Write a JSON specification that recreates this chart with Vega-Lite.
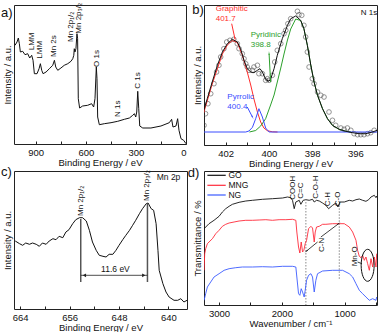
{
"$schema":"https://vega.github.io/schema/vega-lite/v6.json",
"background":"white",
"padding":{"left":0,"top":2,"right":0,"bottom":0},
"columns":2,
"spacing":{"row":26,"column":17},
"bounds":"flush",
"resolve":{"scale":{"color":"independent"}},
"config":{
 "view":{"stroke":"#222","strokeWidth":1},
 "font":"Liberation Sans",
 "axis":{"grid":false,"domain":false,"labelFont":"Liberation Sans","titleFont":"Liberation Sans","labelFontSize":9.5,"titleFontSize":9.5,"titleFontWeight":"normal","labelColor":"#111","titleColor":"#111","tickColor":"#222"},
 "axisX":{"tickSize":-3,"labelPadding":6,"titlePadding":1},
 "axisY":{"labels":false,"ticks":false,"titlePadding":2},
 "text":{"font":"Liberation Sans"}
},
"datasets":{
"a":[
{"s":"c","x":1024,"y":98.7},{"s":"c","x":1012,"y":102},{"s":"c","x":1004,"y":106},{"s":"c","x":998,"y":100.3},{"s":"c","x":992,"y":92},{"s":"c","x":978,"y":92.7},{"s":"c","x":964,"y":89.3},{"s":"c","x":948,"y":90.3},{"s":"c","x":936,"y":86},{"s":"c","x":924,"y":88.7},{"s":"c","x":916,"y":83.7},{"s":"c","x":908,"y":70.3},{"s":"c","x":892,"y":70.3},{"s":"c","x":880,"y":75.3},{"s":"c","x":872,"y":80.3},{"s":"c","x":864,"y":73.7},{"s":"c","x":856,"y":70.3},{"s":"c","x":838,"y":72},{"s":"c","x":818,"y":75.3},{"s":"c","x":798,"y":78.7},{"s":"c","x":788,"y":83.7},{"s":"c","x":780,"y":77},{"s":"c","x":768,"y":73.7},{"s":"c","x":749,"y":76},{"s":"c","x":729,"y":78.7},{"s":"c","x":708,"y":80.3},{"s":"c","x":689,"y":82.7},{"s":"c","x":678,"y":85.3},{"s":"c","x":672,"y":88.7},{"s":"c","x":669,"y":95.3},{"s":"c","x":665,"y":92},{"s":"c","x":659,"y":95.3},{"s":"c","x":653,"y":110.3},{"s":"c","x":649,"y":105.3},{"s":"c","x":645,"y":45.3},{"s":"c","x":637,"y":36},{"s":"c","x":619,"y":38},{"s":"c","x":589,"y":38.7},{"s":"c","x":565,"y":40.3},{"s":"c","x":553,"y":37},{"s":"c","x":545,"y":45.3},{"s":"c","x":537,"y":77},{"s":"c","x":533,"y":65.3},{"s":"c","x":529,"y":27},{"s":"c","x":519,"y":19.3},{"s":"c","x":489,"y":20.3},{"s":"c","x":449,"y":21.3},{"s":"c","x":409,"y":22.7},{"s":"c","x":369,"y":24.7},{"s":"c","x":339,"y":26},{"s":"c","x":319,"y":28.7},{"s":"c","x":309,"y":30.3},{"s":"c","x":301,"y":27},{"s":"c","x":295,"y":32},{"s":"c","x":289,"y":52.7},{"s":"c","x":283,"y":35.3},{"s":"c","x":277,"y":18},{"s":"c","x":259,"y":16},{"s":"c","x":210,"y":16},{"s":"c","x":150,"y":18},{"s":"c","x":100,"y":21.3},{"s":"c","x":86,"y":24.7},{"s":"c","x":78,"y":17},{"s":"c","x":60,"y":18},{"s":"c","x":50,"y":25.3},{"s":"c","x":42,"y":13.7},{"s":"c","x":30,"y":5.3},{"s":"c","x":14,"y":3.7},{"s":"c","x":0,"y":0.3},
{"s":"r","x":922,"y":93.7,"t":"LMM"},{"s":"r","x":872,"y":85.3,"t":"LMM"},{"s":"r","x":788,"y":87,"t":"Mn 2s"},{"s":"r","x":689,"y":102,"t":"Mn 2p₁/₂"},{"s":"r","x":639,"y":110.3,"t":"Mn 2p₃/₂"},{"s":"r","x":533,"y":77,"t":"O 1s"},{"s":"r","x":409,"y":27,"t":"N 1s"},{"s":"r","x":289,"y":55.3,"t":"C 1s"},
{"s":"p","x":1108,"y":131,"t":"a)"}
],
"b":[
{"s":"o","x":403.0,"y":6.7},{"s":"o","x":402.93,"y":18.3},{"s":"o","x":402.82,"y":28.3},{"s":"o","x":402.69,"y":38.3},{"s":"o","x":402.54,"y":48.3},{"s":"o","x":402.42,"y":60},{"s":"o","x":402.31,"y":66.7},{"s":"o","x":402.23,"y":75},{"s":"o","x":402.08,"y":83.3},{"s":"o","x":401.95,"y":90},{"s":"o","x":401.8,"y":91.7},{"s":"o","x":401.62,"y":92.7},{"s":"o","x":401.46,"y":88.3},{"s":"o","x":401.38,"y":83.3},{"s":"o","x":401.23,"y":78.3},{"s":"o","x":401.15,"y":73.3},{"s":"o","x":401.07,"y":68.3},{"s":"o","x":401.0,"y":65},{"s":"o","x":400.92,"y":61.7},{"s":"o","x":400.76,"y":61.7},{"s":"o","x":400.69,"y":65},{"s":"o","x":400.53,"y":66.7},{"s":"o","x":400.46,"y":58.3},{"s":"o","x":400.3,"y":58.3},{"s":"o","x":400.15,"y":51.7},{"s":"o","x":400.07,"y":53.3},{"s":"o","x":399.99,"y":51.7},{"s":"o","x":399.84,"y":56.7},{"s":"o","x":399.73,"y":70},{"s":"o","x":399.61,"y":81.7},{"s":"o","x":399.45,"y":88.3},{"s":"o","x":399.3,"y":98.3},{"s":"o","x":399.22,"y":101.7},{"s":"o","x":399.12,"y":108.3},{"s":"o","x":398.99,"y":113.3},{"s":"o","x":398.68,"y":120.7},{"s":"o","x":398.61,"y":117.3},{"s":"o","x":398.48,"y":116.7},{"s":"o","x":398.38,"y":106.7},{"s":"o","x":398.3,"y":95},{"s":"o","x":398.22,"y":80},{"s":"o","x":398.14,"y":65},{"s":"o","x":397.99,"y":53.3},{"s":"o","x":397.91,"y":48.3},{"s":"o","x":397.75,"y":40},{"s":"o","x":397.6,"y":36.7},{"s":"o","x":397.45,"y":35},{"s":"o","x":397.22,"y":20},{"s":"o","x":397.06,"y":11.7},{"s":"o","x":396.91,"y":6.7},{"s":"o","x":396.67,"y":4},{"s":"o","x":396.52,"y":2.7},{"s":"o","x":396.37,"y":4},{"s":"o","x":396.21,"y":1.7},{"s":"o","x":396.06,"y":-1.7},{"s":"o","x":395.9,"y":-2.7},{"s":"o","x":395.75,"y":-2.7},{"s":"o","x":395.6,"y":-2.7},{"s":"o","x":395.44,"y":-1.7},{"s":"o","x":395.29,"y":-0.7},{"s":"o","x":395.13,"y":1.7},
{"s":"c","k":"gr","x":403.03,"y":18},{"s":"c","k":"gr","x":402.62,"y":48},{"s":"c","k":"gr","x":402.15,"y":78},{"s":"c","k":"gr","x":401.92,"y":87},{"s":"c","k":"gr","x":401.69,"y":91.5},{"s":"c","k":"gr","x":401.46,"y":89.5},{"s":"c","k":"gr","x":401.23,"y":77},{"s":"c","k":"gr","x":401.0,"y":60},{"s":"c","k":"gr","x":400.84,"y":47},{"s":"c","k":"gr","x":400.69,"y":33},{"s":"c","k":"gr","x":400.53,"y":20},{"s":"c","k":"gr","x":400.38,"y":10},{"s":"c","k":"gr","x":400.23,"y":4},{"s":"c","k":"gr","x":400.07,"y":1.3},{"s":"c","k":"gr","x":399.84,"y":0.2},{"s":"c","k":"gr","x":399.6,"y":0},
{"s":"c","k":"pyd","x":400.9,"y":0},{"s":"c","k":"pyd","x":400.61,"y":1.5},{"s":"c","k":"pyd","x":400.38,"y":6},{"s":"c","k":"pyd","x":400.15,"y":13.3},{"s":"c","k":"pyd","x":399.92,"y":27},{"s":"c","k":"pyd","x":399.76,"y":37},{"s":"c","k":"pyd","x":399.61,"y":50},{"s":"c","k":"pyd","x":399.45,"y":64},{"s":"c","k":"pyd","x":399.3,"y":78},{"s":"c","k":"pyd","x":399.14,"y":92},{"s":"c","k":"pyd","x":398.99,"y":103},{"s":"c","k":"pyd","x":398.76,"y":113},{"s":"c","k":"pyd","x":398.53,"y":111.5},{"s":"c","k":"pyd","x":398.38,"y":103.3},{"s":"c","k":"pyd","x":398.22,"y":86.7},{"s":"c","k":"pyd","x":398.06,"y":66.7},{"s":"c","k":"pyd","x":397.91,"y":50},{"s":"c","k":"pyd","x":397.75,"y":36.7},{"s":"c","k":"pyd","x":397.52,"y":23.3},{"s":"c","k":"pyd","x":397.29,"y":13.3},{"s":"c","k":"pyd","x":397.06,"y":6.7},{"s":"c","k":"pyd","x":396.75,"y":2.7},{"s":"c","k":"pyd","x":396.44,"y":0.7},{"s":"c","k":"pyd","x":396.2,"y":0},
{"s":"c","k":"pyr","x":403.0,"y":0},{"s":"c","k":"pyr","x":401.07,"y":0},{"s":"c","k":"pyr","x":400.92,"y":1},{"s":"c","k":"pyr","x":400.76,"y":4.7},{"s":"c","k":"pyr","x":400.61,"y":13.3},{"s":"c","k":"pyr","x":400.46,"y":23.3},{"s":"c","k":"pyr","x":400.3,"y":15},{"s":"c","k":"pyr","x":400.15,"y":4},{"s":"c","k":"pyr","x":399.99,"y":0},{"s":"c","k":"pyr","x":395.0,"y":0},
{"s":"c","k":"env","x":403.03,"y":20},{"s":"c","k":"env","x":402.85,"y":33.3},{"s":"c","k":"env","x":402.62,"y":50},{"s":"c","k":"env","x":402.38,"y":66.7},{"s":"c","k":"env","x":402.15,"y":80},{"s":"c","k":"env","x":401.92,"y":88.3},{"s":"c","k":"env","x":401.69,"y":92.7},{"s":"c","k":"env","x":401.46,"y":90},{"s":"c","k":"env","x":401.31,"y":83.3},{"s":"c","k":"env","x":401.15,"y":71.7},{"s":"c","k":"env","x":401.0,"y":63.3},{"s":"c","k":"env","x":400.84,"y":60},{"s":"c","k":"env","x":400.69,"y":59.3},{"s":"c","k":"env","x":400.53,"y":61.7},{"s":"c","k":"env","x":400.41,"y":63.3},{"s":"c","k":"env","x":400.3,"y":60},{"s":"c","k":"env","x":400.15,"y":52.7},{"s":"c","k":"env","x":400.0,"y":50.7},{"s":"c","k":"env","x":399.92,"y":52.7},{"s":"c","k":"env","x":399.76,"y":63.3},{"s":"c","k":"env","x":399.61,"y":76.7},{"s":"c","k":"env","x":399.38,"y":93.3},{"s":"c","k":"env","x":399.14,"y":106.7},{"s":"c","k":"env","x":398.99,"y":113.3},{"s":"c","k":"env","x":398.76,"y":116},{"s":"c","k":"env","x":398.53,"y":111.7},{"s":"c","k":"env","x":398.38,"y":103.3},{"s":"c","k":"env","x":398.22,"y":86.7},{"s":"c","k":"env","x":398.06,"y":66.7},{"s":"c","k":"env","x":397.91,"y":50},{"s":"c","k":"env","x":397.75,"y":36.7},{"s":"c","k":"env","x":397.52,"y":23.3},{"s":"c","k":"env","x":397.29,"y":13.3},{"s":"c","k":"env","x":397.06,"y":6.7},{"s":"c","k":"env","x":396.75,"y":2.7},{"s":"c","k":"env","x":396.44,"y":0.7},{"s":"c","k":"env","x":396.13,"y":-0.7},{"s":"c","k":"env","x":395.83,"y":-1.7},{"s":"c","k":"env","x":395.52,"y":-1.7},{"s":"c","k":"env","x":395.21,"y":0},{"s":"c","k":"env","x":395.0,"y":1.7},
{"s":"t","k":"gr","x":402.46,"y":123.3,"t":"Graphitic"},{"s":"t","k":"gr","x":402.46,"y":113.3,"t":"401.7"},
{"s":"t","k":"pyd","x":400.84,"y":96.7,"t":"Pyridinic"},{"s":"t","k":"pyd","x":400.84,"y":86.7,"t":"398.8"},
{"s":"t","k":"pyr","x":401.92,"y":35,"t":"Pyrrolic"},{"s":"t","k":"pyr","x":401.92,"y":25,"t":"400.4"},
{"s":"t","k":"env","x":395.75,"y":118.8,"t":"N 1s"},
{"s":"ar","k":"gr","x":401.72,"y":108.3,"x2":401.57,"y2":93.3},{"s":"ar","k":"pyd","x":399.99,"y":78.3,"x2":399.92,"y2":50},{"s":"ar","k":"pyr","x":401.0,"y":25,"x2":400.76,"y2":15},
{"s":"w1","x":401.57,"y":93.3},{"s":"w2","x":399.99,"y":78.3},{"s":"w3","x":400.76,"y":15},
{"s":"p","x":403.54,"y":121.7,"t":"b)"}
],
"c":[
{"s":"c","x":664.8,"y":68},{"s":"c","x":664.1,"y":65.3},{"s":"c","x":663.6,"y":63.7},{"s":"c","x":663.1,"y":66},{"s":"c","x":662.5,"y":64.7},{"s":"c","x":662.0,"y":66},{"s":"c","x":661.4,"y":64.7},{"s":"c","x":660.9,"y":62.7},{"s":"c","x":660.4,"y":66},{"s":"c","x":659.8,"y":64.7},{"s":"c","x":659.3,"y":68},{"s":"c","x":658.7,"y":70.3},{"s":"c","x":658.2,"y":69.3},{"s":"c","x":657.7,"y":72.7},{"s":"c","x":657.1,"y":71.3},{"s":"c","x":656.6,"y":77},{"s":"c","x":656.1,"y":79.3},{"s":"c","x":655.5,"y":85.3},{"s":"c","x":655.0,"y":89.3},{"s":"c","x":654.4,"y":91.3},{"s":"c","x":653.9,"y":91.3},{"s":"c","x":653.3,"y":88},{"s":"c","x":652.8,"y":78.7},{"s":"c","x":652.3,"y":67},{"s":"c","x":651.7,"y":58.7},{"s":"c","x":651.2,"y":53.7},{"s":"c","x":650.6,"y":52.7},{"s":"c","x":650.1,"y":52},{"s":"c","x":649.6,"y":54.7},{"s":"c","x":649.0,"y":54.7},{"s":"c","x":648.5,"y":58.7},{"s":"c","x":648.0,"y":63.7},{"s":"c","x":647.4,"y":69.3},{"s":"c","x":646.9,"y":73.7},{"s":"c","x":646.3,"y":78.7},{"s":"c","x":645.8,"y":83.7},{"s":"c","x":645.3,"y":88.7},{"s":"c","x":644.7,"y":95.3},{"s":"c","x":644.2,"y":100.3},{"s":"c","x":643.6,"y":105.3},{"s":"c","x":643.3,"y":106},{"s":"c","x":642.8,"y":100.3},{"s":"c","x":642.4,"y":98.7},{"s":"c","x":642.0,"y":85.3},{"s":"c","x":641.7,"y":58.7},{"s":"c","x":641.5,"y":38.7},{"s":"c","x":640.9,"y":25.3},{"s":"c","x":640.4,"y":17},{"s":"c","x":639.9,"y":12},{"s":"c","x":639.1,"y":8.7},{"s":"c","x":638.5,"y":8.7},{"s":"c","x":638.0,"y":10.3},{"s":"c","x":637.5,"y":7},{"s":"c","x":637.0,"y":8.7},
{"s":"v","x":654.2,"y":90,"y2":27},{"s":"v","x":643.4,"y":105,"y2":27},
{"s":"h","x":654.2,"x2":643.4,"y":33.7},
{"s":"hl","x":653.6,"y":33.7},{"s":"hr","x":644.0,"y":33.7},
{"s":"t","x":650.9,"y":40.3,"t":"11.6 eV"},{"s":"t","x":641.9,"y":132,"t":"Mn 2p"},
{"s":"r","x":654.2,"y":93,"t":"Mn 2p₁/₂"},{"s":"r","x":643.4,"y":108,"t":"Mn 2p₃/₂"},
{"s":"p","x":667.1,"y":137,"t":"c)"}
],
"d":[
{"s":"c","k":"GO","x":3239,"y":73.3},{"s":"c","k":"GO","x":3160,"y":78.3},{"s":"c","k":"GO","x":3080,"y":81.7},{"s":"c","k":"GO","x":3000,"y":85.7},{"s":"c","k":"GO","x":2947,"y":90},{"s":"c","k":"GO","x":2894,"y":93.3},{"s":"c","k":"GO","x":2840,"y":95.7},{"s":"c","k":"GO","x":2787,"y":97.7},{"s":"c","k":"GO","x":2681,"y":99.7},{"s":"c","k":"GO","x":2574,"y":101},{"s":"c","k":"GO","x":2468,"y":101.7},{"s":"c","k":"GO","x":2309,"y":102.7},{"s":"c","k":"GO","x":2149,"y":103.3},{"s":"c","k":"GO","x":1989,"y":104},{"s":"c","k":"GO","x":1910,"y":105},{"s":"c","k":"GO","x":1856,"y":104.3},{"s":"c","k":"GO","x":1830,"y":101.7},{"s":"c","k":"GO","x":1803,"y":93.3},{"s":"c","k":"GO","x":1777,"y":100},{"s":"c","k":"GO","x":1723,"y":101.7},{"s":"c","k":"GO","x":1697,"y":97.7},{"s":"c","k":"GO","x":1660,"y":101.7},{"s":"c","k":"GO","x":1617,"y":102.3},{"s":"c","k":"GO","x":1564,"y":101.7},{"s":"c","k":"GO","x":1511,"y":102.7},{"s":"c","k":"GO","x":1484,"y":100},{"s":"c","k":"GO","x":1447,"y":101.7},{"s":"c","k":"GO","x":1404,"y":101},{"s":"c","k":"GO","x":1351,"y":99},{"s":"c","k":"GO","x":1298,"y":96.7},{"s":"c","k":"GO","x":1255,"y":93.3},{"s":"c","k":"GO","x":1191,"y":96.7},{"s":"c","k":"GO","x":1138,"y":99},{"s":"c","k":"GO","x":1106,"y":95},{"s":"c","k":"GO","x":1074,"y":100},{"s":"c","k":"GO","x":1005,"y":100},{"s":"c","k":"GO","x":926,"y":101.7},{"s":"c","k":"GO","x":872,"y":101},{"s":"c","k":"GO","x":819,"y":102.3},{"s":"c","k":"GO","x":766,"y":103},{"s":"c","k":"GO","x":713,"y":101.7},{"s":"c","k":"GO","x":660,"y":100.7},{"s":"c","k":"GO","x":617,"y":102.3},{"s":"c","k":"GO","x":580,"y":105},{"s":"c","k":"GO","x":527,"y":106.7},{"s":"c","k":"GO","x":500,"y":104.3},{"s":"c","k":"GO","x":489,"y":106},
{"s":"c","k":"MNG","x":3239,"y":31.7},{"s":"c","k":"MNG","x":3229,"y":48.3},{"s":"c","k":"MNG","x":3213,"y":53.3},{"s":"c","k":"MNG","x":3186,"y":58.3},{"s":"c","k":"MNG","x":3160,"y":60},{"s":"c","k":"MNG","x":3106,"y":63.3},{"s":"c","k":"MNG","x":3053,"y":68.3},{"s":"c","k":"MNG","x":3000,"y":71.7},{"s":"c","k":"MNG","x":2947,"y":75.7},{"s":"c","k":"MNG","x":2894,"y":77.7},{"s":"c","k":"MNG","x":2840,"y":79},{"s":"c","k":"MNG","x":2761,"y":80},{"s":"c","k":"MNG","x":2681,"y":81},{"s":"c","k":"MNG","x":2574,"y":81.7},{"s":"c","k":"MNG","x":2468,"y":81.7},{"s":"c","k":"MNG","x":2362,"y":82},{"s":"c","k":"MNG","x":2255,"y":82.3},{"s":"c","k":"MNG","x":2149,"y":81.7},{"s":"c","k":"MNG","x":2043,"y":82.3},{"s":"c","k":"MNG","x":1936,"y":82.3},{"s":"c","k":"MNG","x":1830,"y":82.7},{"s":"c","k":"MNG","x":1777,"y":81.7},{"s":"c","k":"MNG","x":1761,"y":70},{"s":"c","k":"MNG","x":1734,"y":55},{"s":"c","k":"MNG","x":1713,"y":49},{"s":"c","k":"MNG","x":1691,"y":60},{"s":"c","k":"MNG","x":1670,"y":50},{"s":"c","k":"MNG","x":1649,"y":51.7},{"s":"c","k":"MNG","x":1628,"y":58.3},{"s":"c","k":"MNG","x":1606,"y":61.7},{"s":"c","k":"MNG","x":1574,"y":73.3},{"s":"c","k":"MNG","x":1537,"y":75.7},{"s":"c","k":"MNG","x":1511,"y":74},{"s":"c","k":"MNG","x":1484,"y":60},{"s":"c","k":"MNG","x":1468,"y":70},{"s":"c","k":"MNG","x":1447,"y":75},{"s":"c","k":"MNG","x":1404,"y":75.7},{"s":"c","k":"MNG","x":1351,"y":77.7},{"s":"c","k":"MNG","x":1298,"y":77.7},{"s":"c","k":"MNG","x":1191,"y":78.3},{"s":"c","k":"MNG","x":1085,"y":78.3},{"s":"c","k":"MNG","x":1005,"y":78.3},{"s":"c","k":"MNG","x":926,"y":75},{"s":"c","k":"MNG","x":872,"y":70},{"s":"c","k":"MNG","x":819,"y":61.7},{"s":"c","k":"MNG","x":793,"y":51.7},{"s":"c","k":"MNG","x":766,"y":45.7},{"s":"c","k":"MNG","x":739,"y":44.3},{"s":"c","k":"MNG","x":713,"y":46.7},{"s":"c","k":"MNG","x":686,"y":41.7},{"s":"c","k":"MNG","x":660,"y":45},{"s":"c","k":"MNG","x":633,"y":38.3},{"s":"c","k":"MNG","x":606,"y":31.7},{"s":"c","k":"MNG","x":580,"y":43.3},{"s":"c","k":"MNG","x":553,"y":35},{"s":"c","k":"MNG","x":527,"y":45},{"s":"c","k":"MNG","x":500,"y":35},{"s":"c","k":"MNG","x":489,"y":48.3},
{"s":"c","k":"NG","x":3239,"y":1.7},{"s":"c","k":"NG","x":3213,"y":8.3},{"s":"c","k":"NG","x":3186,"y":15},{"s":"c","k":"NG","x":3133,"y":20},{"s":"c","k":"NG","x":3080,"y":25},{"s":"c","k":"NG","x":3000,"y":28.3},{"s":"c","k":"NG","x":2920,"y":31.7},{"s":"c","k":"NG","x":2840,"y":33.3},{"s":"c","k":"NG","x":2734,"y":34.3},{"s":"c","k":"NG","x":2628,"y":35},{"s":"c","k":"NG","x":2468,"y":35},{"s":"c","k":"NG","x":2309,"y":35.3},{"s":"c","k":"NG","x":2149,"y":35},{"s":"c","k":"NG","x":1989,"y":35.7},{"s":"c","k":"NG","x":1830,"y":35.7},{"s":"c","k":"NG","x":1777,"y":35},{"s":"c","k":"NG","x":1761,"y":25},{"s":"c","k":"NG","x":1734,"y":8.3},{"s":"c","k":"NG","x":1713,"y":6.7},{"s":"c","k":"NG","x":1691,"y":13.3},{"s":"c","k":"NG","x":1670,"y":10},{"s":"c","k":"NG","x":1644,"y":5},{"s":"c","k":"NG","x":1628,"y":11.7},{"s":"c","k":"NG","x":1606,"y":21.7},{"s":"c","k":"NG","x":1574,"y":26.7},{"s":"c","k":"NG","x":1537,"y":28.3},{"s":"c","k":"NG","x":1511,"y":25},{"s":"c","k":"NG","x":1484,"y":10},{"s":"c","k":"NG","x":1458,"y":21.7},{"s":"c","k":"NG","x":1431,"y":28.3},{"s":"c","k":"NG","x":1351,"y":31},{"s":"c","k":"NG","x":1191,"y":31.7},{"s":"c","k":"NG","x":1032,"y":31.7},{"s":"c","k":"NG","x":926,"y":28.3},{"s":"c","k":"NG","x":872,"y":25},{"s":"c","k":"NG","x":819,"y":18.3},{"s":"c","k":"NG","x":766,"y":11.7},{"s":"c","k":"NG","x":713,"y":8.3},{"s":"c","k":"NG","x":660,"y":5},{"s":"c","k":"NG","x":606,"y":1.7},{"s":"c","k":"NG","x":553,"y":3.3},{"s":"c","k":"NG","x":500,"y":1.7},{"s":"c","k":"NG","x":489,"y":5},
{"s":"dot","x":1617,"y":100,"y2":-3},{"s":"dot","x":1085,"y":96.7,"y2":21.7},
{"s":"lg","k":"GO","x":3186,"x2":2894,"y":126.7},{"s":"lg","k":"MNG","x":3186,"x2":2894,"y":116.7},{"s":"lg","k":"NG","x":3186,"x2":2894,"y":107},
{"s":"lt","x":2851,"y":126.7,"t":"GO"},{"s":"lt","x":2851,"y":116.7,"t":"MNG"},{"s":"lt","x":2851,"y":107,"t":"NG"},
{"s":"r","x":1819,"y":102.3,"t":"COOH"},{"s":"r","x":1697,"y":103.3,"t":"C=C"},{"s":"r","x":1457,"y":103.3,"t":"C-O-H"},{"s":"r","x":1271,"y":95.7,"t":"C-H"},{"s":"r","x":1112,"y":95.7,"t":"C-O"},{"s":"r","x":1356,"y":50,"t":"C-N"},{"s":"r","x":830,"y":35.7,"t":"Mn-O"},
{"s":"ar","x":1431,"y":60,"x2":1606,"y2":51},{"s":"ar","x":1378,"y":65,"x2":1096,"y2":78.3},{"s":"ar","x":793,"y":40,"x2":723,"y2":38.3},
{"s":"w1","x":1606,"y":51},{"s":"w2","x":1096,"y":78.3},
{"s":"el","x":633,"y":36.7},
{"s":"p","x":3500,"y":129,"t":"d)"}
]
},
"concat":[
{
 "width":172,"height":139,
 "data":{"name":"a"},
 "encoding":{
  "x":{"field":"x","type":"quantitative","scale":{"domain":[0,1030],"reverse":true,"nice":false,"zero":false},"axis":{"title":"Binding Energy / eV","values":[900,750,600,450,300,150,0],"labelExpr":"datum.value % 300 === 0 ? datum.label : ''"}},
  "y":{"field":"y","type":"quantitative","scale":{"domain":[0,139],"nice":false,"zero":false},"axis":{"title":"Intensity / a.u."}}
 },
 "layer":[
  {"transform":[{"filter":"datum.s==='c'"}],"mark":{"type":"line","color":"#111","strokeWidth":1,"clip":true}},
  {"transform":[{"filter":"datum.s==='r'"}],"mark":{"type":"text","angle":270,"align":"left","baseline":"middle","fontSize":8,"color":"#111"},"encoding":{"text":{"field":"t"}}},
  {"transform":[{"filter":"datum.s==='p'"}],"mark":{"type":"text","align":"left","baseline":"middle","fontSize":13,"color":"#111"},"encoding":{"text":{"field":"t"}}}
 ]
},
{
 "width":173,"height":140,
 "data":{"name":"b"},
 "encoding":{
  "x":{"field":"x","type":"quantitative","scale":{"domain":[395,403],"reverse":true,"nice":false,"zero":false},"axis":{"title":"Binding Energy / eV","values":[403,402,401,400,399,398,397,396,395],"labelExpr":"datum.value % 2 === 0 ? datum.label : ''"}},
  "y":{"field":"y","type":"quantitative","scale":{"domain":[-13,127],"nice":false,"zero":false},"axis":{"title":"Intensity / a.u."}}
 },
 "layer":[
  {"transform":[{"filter":"datum.s==='o'"}],"mark":{"type":"point","shape":"circle","filled":false,"size":22,"strokeWidth":0.8,"color":"#444","clip":true}},
  {"transform":[{"filter":"datum.s==='c'"}],"mark":{"type":"line","strokeWidth":1,"clip":true},"encoding":{"color":{"field":"k","type":"nominal","scale":{"domain":["env","gr","pyd","pyr"],"range":["#111111","#ff2d2d","#2ca02c","#3b4cff"]},"legend":null}}},
  {"transform":[{"filter":"datum.s==='ar'"}],"mark":{"type":"rule","strokeWidth":1},"encoding":{"x2":{"field":"x2"},"y2":{"field":"y2"},"color":{"field":"k","type":"nominal","legend":null}}},
  {"transform":[{"filter":"datum.s==='w1'"}],"mark":{"type":"point","shape":"wedge","filled":true,"size":20,"angle":168,"color":"#ff2d2d","opacity":1}},
  {"transform":[{"filter":"datum.s==='w2'"}],"mark":{"type":"point","shape":"wedge","filled":true,"size":20,"angle":357,"color":"#2ca02c","opacity":1}},
  {"transform":[{"filter":"datum.s==='w3'"}],"mark":{"type":"point","shape":"wedge","filled":true,"size":20,"angle":153,"color":"#3b4cff","opacity":1}},
  {"transform":[{"filter":"datum.s==='t'"}],"mark":{"type":"text","align":"left","baseline":"middle","fontSize":8},"encoding":{"text":{"field":"t"},"color":{"field":"k","type":"nominal","legend":null}}},
  {"transform":[{"filter":"datum.s==='p'"}],"mark":{"type":"text","align":"left","baseline":"middle","fontSize":13,"color":"#111"},"encoding":{"text":{"field":"t"}}}
 ]
},
{
 "width":173,"height":138,
 "data":{"name":"c"},
 "encoding":{
  "x":{"field":"x","type":"quantitative","scale":{"domain":[637,665],"reverse":true,"nice":false,"zero":false},"axis":{"title":"Binding Energy / eV","values":[664,660,656,652,648,644,640],"labelExpr":"datum.value % 8 === 0 ? datum.label : ''"}},
  "y":{"field":"y","type":"quantitative","scale":{"domain":[0,138],"nice":false,"zero":false},"axis":{"title":"Intensity / a.u."}}
 },
 "layer":[
  {"transform":[{"filter":"datum.s==='c'"}],"mark":{"type":"line","color":"#111","strokeWidth":1,"clip":true}},
  {"transform":[{"filter":"datum.s==='v'"}],"mark":{"type":"rule","color":"#555","strokeWidth":1.5},"encoding":{"y2":{"field":"y2"}}},
  {"transform":[{"filter":"datum.s==='h'"}],"mark":{"type":"rule","color":"#222","strokeWidth":0.8},"encoding":{"x2":{"field":"x2"}}},
  {"transform":[{"filter":"datum.s==='hl'"}],"mark":{"type":"point","shape":"triangle-left","filled":true,"size":14,"color":"#222","opacity":1}},
  {"transform":[{"filter":"datum.s==='hr'"}],"mark":{"type":"point","shape":"triangle-right","filled":true,"size":14,"color":"#222","opacity":1}},
  {"transform":[{"filter":"datum.s==='t'"}],"mark":{"type":"text","align":"left","baseline":"middle","fontSize":8.5,"color":"#111"},"encoding":{"text":{"field":"t"}}},
  {"transform":[{"filter":"datum.s==='r'"}],"mark":{"type":"text","angle":270,"align":"left","baseline":"middle","fontSize":8,"color":"#111"},"encoding":{"text":{"field":"t"}}},
  {"transform":[{"filter":"datum.s==='p'"}],"mark":{"type":"text","align":"left","baseline":"middle","fontSize":13,"color":"#111"},"encoding":{"text":{"field":"t"}}}
 ]
},
{
 "width":173,"height":134,
 "data":{"name":"d"},
 "encoding":{
  "x":{"field":"x","type":"quantitative","scale":{"domain":[484,3240],"reverse":true,"nice":false,"zero":false},"axis":{"title":"Wavenumber / cm⁻¹","format":"d","values":[3000,2500,2000,1500,1000,500],"labelExpr":"datum.value % 1000 === 0 ? datum.label : ''"}},
  "y":{"field":"y","type":"quantitative","scale":{"domain":[-3,131],"nice":false,"zero":false},"axis":{"title":"Transmittance / %"}}
 },
 "layer":[
  {"transform":[{"filter":"datum.s==='dot'"}],"mark":{"type":"rule","color":"#888","strokeWidth":1,"strokeDash":[1.5,1.5]},"encoding":{"y2":{"field":"y2"}}},
  {"transform":[{"filter":"datum.s==='c'"}],"mark":{"type":"line","strokeWidth":0.9,"clip":true},"encoding":{"color":{"field":"k","type":"nominal","scale":{"domain":["GO","MNG","NG"],"range":["#111111","#ff2a3a","#3b5bff"]},"legend":null}}},
  {"transform":[{"filter":"datum.s==='lg'"}],"mark":{"type":"rule","strokeWidth":1.2},"encoding":{"x2":{"field":"x2"},"color":{"field":"k","type":"nominal","legend":null}}},
  {"transform":[{"filter":"datum.s==='lt'"}],"mark":{"type":"text","align":"left","baseline":"middle","fontSize":8.5,"color":"#111"},"encoding":{"text":{"field":"t"}}},
  {"transform":[{"filter":"datum.s==='r'"}],"mark":{"type":"text","angle":270,"align":"left","baseline":"middle","fontSize":8,"color":"#111"},"encoding":{"text":{"field":"t"}}},
  {"transform":[{"filter":"datum.s==='ar'"}],"mark":{"type":"rule","color":"#111","strokeWidth":0.8},"encoding":{"x2":{"field":"x2"},"y2":{"field":"y2"}}},
  {"transform":[{"filter":"datum.s==='w1'"}],"mark":{"type":"point","shape":"wedge","filled":true,"size":18,"angle":231,"color":"#111","opacity":1}},
  {"transform":[{"filter":"datum.s==='w2'"}],"mark":{"type":"point","shape":"wedge","filled":true,"size":18,"angle":53,"color":"#111","opacity":1}},
  {"transform":[{"filter":"datum.s==='el'"}],"mark":{"type":"point","shape":"M-0.406,0A0.406,1 0 1,1 0.406,0A0.406,1 0 1,1 -0.406,0Z","filled":false,"size":1024,"strokeWidth":1,"color":"#111","opacity":1}},
  {"transform":[{"filter":"datum.s==='p'"}],"mark":{"type":"text","align":"left","baseline":"middle","fontSize":13,"color":"#111"},"encoding":{"text":{"field":"t"}}}
 ]
}
]
}
